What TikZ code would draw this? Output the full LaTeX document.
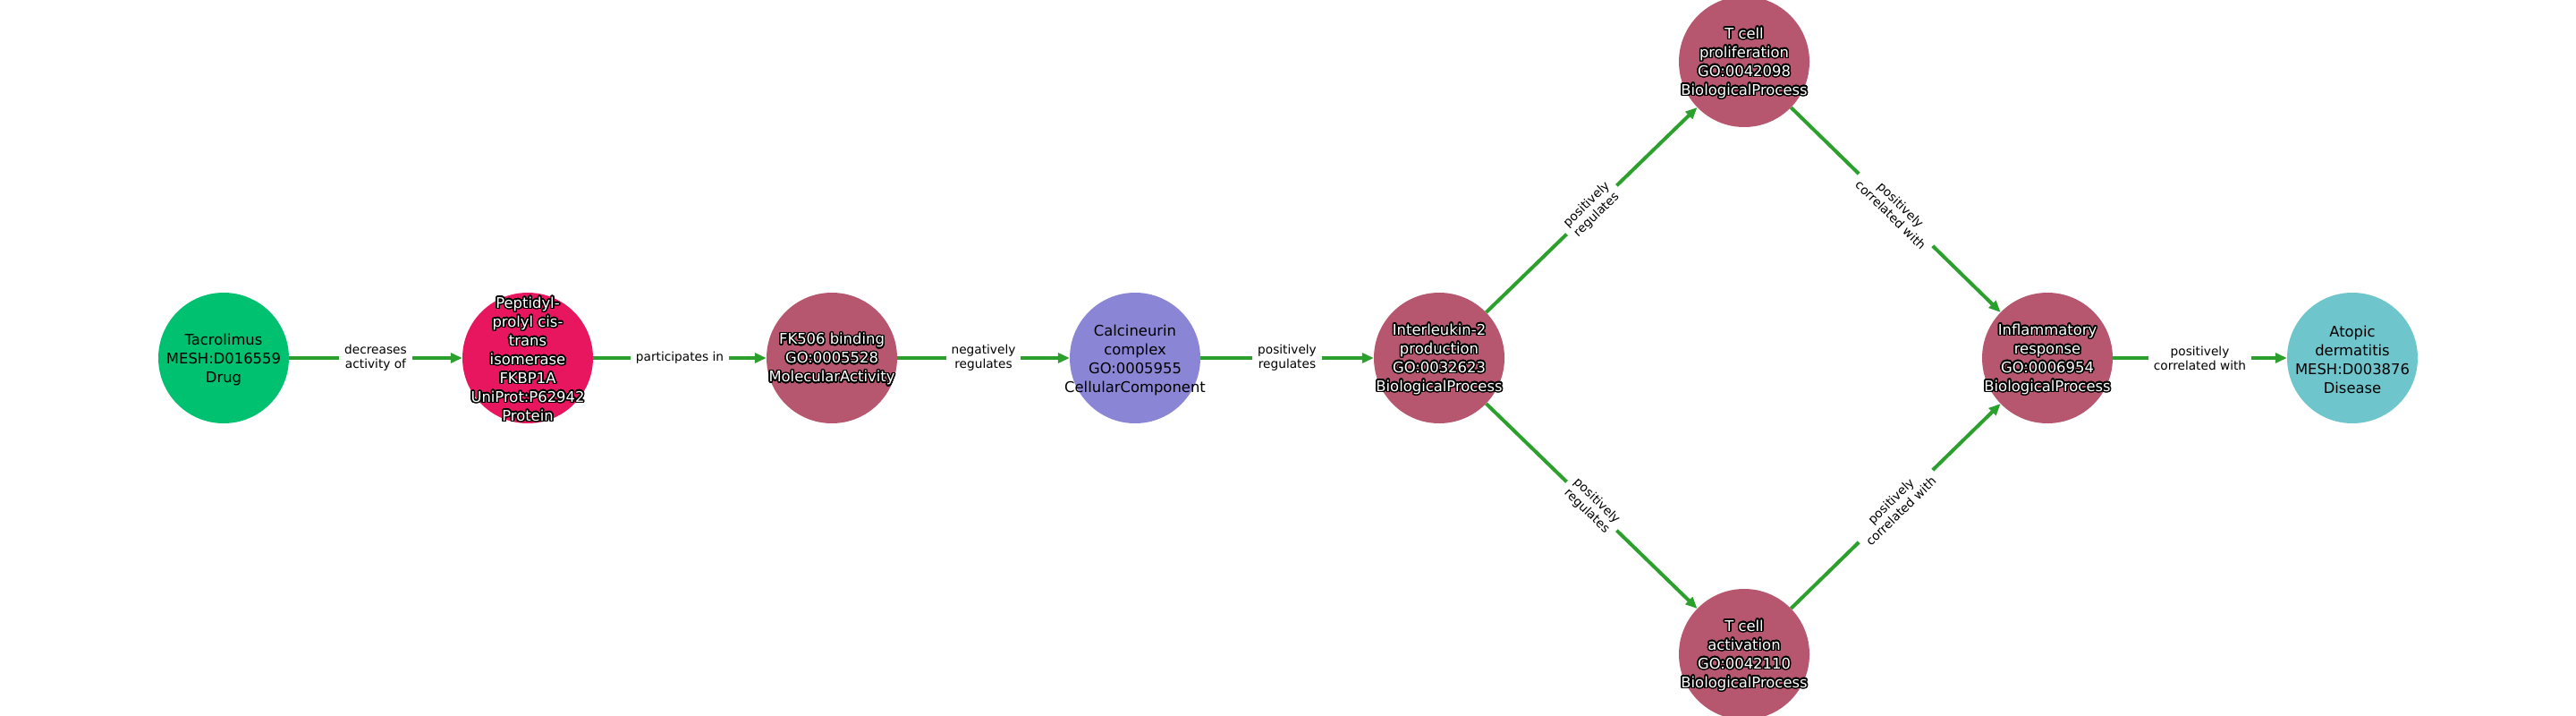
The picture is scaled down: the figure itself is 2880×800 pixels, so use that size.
\documentclass[tikz,border=0pt]{standalone}
\usepackage{fontspec}
\setmainfont{DejaVu Sans}
\usepackage{contour}
\contourlength{1.5pt}
\contournumber{24}
\usetikzlibrary{arrows.meta}
\definecolor{edgegreen}{RGB}{44,160,44}
\definecolor{cdrug}{RGB}{0,193,111}
\definecolor{cprot}{RGB}{232,22,94}
\definecolor{cproc}{RGB}{182,87,111}
\definecolor{ccomp}{RGB}{139,133,214}
\definecolor{cdis}{RGB}{110,197,204}
\newcommand{\ow}[1]{\contour{black}{#1}}
\tikzset{
  ent/.style={circle, minimum size=146pt, inner sep=0pt, draw=none, fill=#1},
  darktext/.style={text=white, align=center, inner sep=0pt, yshift=-2pt, font=\fontsize{16.4}{21}\selectfont},
  lighttext/.style={text=black, align=center, inner sep=0pt, yshift=-2pt, font=\fontsize{16.4}{21}\selectfont},
  edge/.style={draw=edgegreen, line width=4pt, -{Triangle[length=13pt,width=11pt]}},
  elabel/.style={fill=white, text=black, align=center, inner xsep=6pt, inner ysep=3pt, font=\fontsize{13.7}{16}\selectfont}
}
\begin{document}
\begin{tikzpicture}[x=1pt, y=-1pt]
\useasboundingbox[fill=white] (0,0) rectangle (2880,800);
\node[ent=cdrug, label={[lighttext]center:{Tacrolimus\\MESH:D016559\\Drug}}] (tac) at (250,400) {};
\node[ent=cprot, label={[darktext]center:{\ow{Peptidyl-}\\\ow{prolyl cis-}\\\ow{trans}\\\ow{isomerase}\\\ow{FKBP1A}\\\ow{UniProt:P62942}\\\ow{Protein}}}] (pep) at (590,400) {};
\node[ent=cproc, label={[darktext]center:{\ow{FK506 binding}\\\ow{GO:0005528}\\\ow{MolecularActivity}}}] (fk) at (930,400) {};
\node[ent=ccomp, label={[lighttext]center:{Calcineurin\\complex\\GO:0005955\\CellularComponent}}] (cal) at (1269,400) {};
\node[ent=cproc, label={[darktext]center:{\ow{Interleukin-2}\\\ow{production}\\\ow{GO:0032623}\\\ow{BiologicalProcess}}}] (il2) at (1609,400) {};
\node[ent=cproc, label={[darktext]center:{\ow{T cell}\\\ow{proliferation}\\\ow{GO:0042098}\\\ow{BiologicalProcess}}}] (tpro) at (1950,69) {};
\node[ent=cproc, label={[darktext]center:{\ow{T cell}\\\ow{activation}\\\ow{GO:0042110}\\\ow{BiologicalProcess}}}] (tact) at (1950,731) {};
\node[ent=cproc, label={[darktext]center:{\ow{Inflammatory}\\\ow{response}\\\ow{GO:0006954}\\\ow{BiologicalProcess}}}] (infl) at (2289,400) {};
\node[ent=cdis, label={[lighttext]center:{Atopic\\dermatitis\\MESH:D003876\\Disease}}] (atop) at (2630,400) {};

\draw[edge] (tac) -- node[elabel] (l1) {decreases\\activity of} (pep);
\draw[edge] (pep) -- node[elabel] (l2) {participates in} (fk);
\draw[edge] (fk) -- node[elabel] (l3) {negatively\\regulates} (cal);
\draw[edge] (cal) -- node[elabel] (l4) {positively\\regulates} (il2);
\draw[edge] (il2) -- node[elabel, sloped] (l5) {positively\\regulates} (tpro);
\draw[edge] (il2) -- node[elabel, sloped] (l6) {positively\\regulates} (tact);
\draw[edge] (tpro) -- node[elabel, sloped] (l7) {positively\\correlated with} (infl);
\draw[edge] (tact) -- node[elabel, sloped] (l8) {positively\\correlated with} (infl);
\draw[edge] (infl) -- node[elabel] (l9) {positively\\correlated with} (atop);
\end{tikzpicture}
\end{document}
